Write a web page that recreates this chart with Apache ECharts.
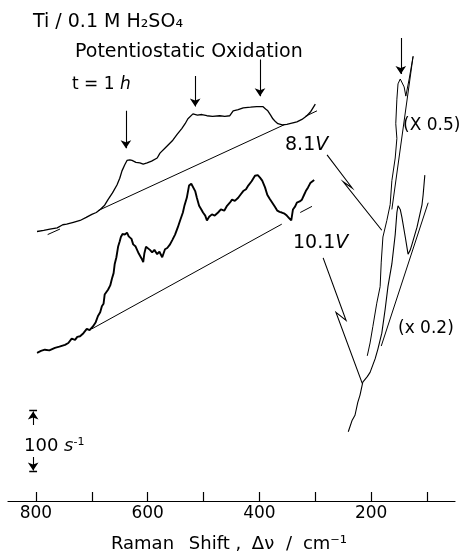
<!DOCTYPE html>
<html><head><meta charset="utf-8">
<script src="https://cdn.jsdelivr.net/npm/echarts@6/dist/echarts.min.js"></script>
<style>html,body{margin:0;padding:0;background:#fff}#c{width:464px;height:558px}</style>
</head><body><div id="c"></div>
<script>
// Raman shift ticks (cm^-1)
const xTicks = [100, 200, 300, 400, 500, 600, 700, 800];
const xTickLabels = [200, 400, 600, 800];

// 8.1 V spectrum, 300-800 cm^-1 region (counts, offset)
const spec81Left = [[798,440],[786,442],[775,444],[762,446],[752,451],[745,452],[733,455],[721,458],[710,463],[700,468],[692,471],[685,476],[677,483],[671,492],[663,503],[655,516],[650,527],[646,539],[641,549],[637,556],[632,557],[628,556],[621,553],[614,552],[608,550],[601,552],[593,555],[583,560],[578,568],[567,578],[555,589],[547,599],[539,608],[533,616],[528,624],[519,632],[511,630],[503,631],[494,629],[484,628],[471,629],[462,628],[453,629],[447,637],[438,639],[429,642],[416,643],[405,644],[394,644],[389,640],[385,637],[380,630],[376,624],[371,619],[367,616],[359,614],[351,615],[342,617],[333,619],[324,623],[315,629],[308,636],[300,648]];
// 10.1 V spectrum, 300-800 cm^-1 region
const spec101Left = [[798,242],[791,245],[784,247],[776,246],[766,250],[758,252],[748,255],[742,258],[736,265],[730,263],[726,268],[721,269],[715,274],[709,281],[704,279],[698,285],[693,292],[689,302],[685,308],[682,318],[679,322],[677,337],[674,334],[671,345],[667,352],[664,363],[661,372],[659,387],[656,398],[653,415],[650,424],[648,431],[645,436],[641,435],[637,438],[634,432],[632,431],[629,428],[626,419],[622,416],[619,410],[616,404],[614,402],[611,396],[608,390],[606,404],[603,415],[600,418],[596,410],[592,406],[588,410],[583,403],[579,407],[574,398],[569,411],[565,413],[560,419],[556,426],[551,435],[546,447],[542,458],[537,471],[534,483],[530,495],[526,515],[522,518],[519,516],[515,506],[512,495],[508,482],[504,476],[501,471],[497,466],[494,458],[490,464],[485,468],[480,466],[474,471],[469,476],[463,474],[458,482],[453,487],[449,492],[444,490],[438,495],[434,500],[429,506],[424,509],[420,515],[414,522],[408,531],[403,532],[399,528],[395,523],[390,512],[386,500],[382,494],[377,487],[372,480],[368,474],[364,472],[360,471],[355,469],[351,466],[347,462],[343,458],[340,476],[336,481],[333,487],[328,489],[324,492],[320,500],[317,506],[313,512],[309,519],[302,524]];
// 8.1 V low-frequency part (x0.5)
const spec81Right = [[207,237],[202,258],[197,285],[190,323],[184,350],[182,390],[179,431],[172,458],[166,484],[163,523],[157,560],[154,592],[156,616],[154,656],[152,681],[148,689],[145,689],[141,676],[138,661],[132,689],[125,726]];
// 10.1 V low-frequency part (x0.2)
const spec101Right = [[241,113],[234,132],[229,140],[224,161],[220,173],[215,194],[207,203],[202,210],[193,232],[188,248],[181,274],[175,313],[170,350],[163,387],[157,435],[154,471],[152,482],[148,476],[145,463],[139,431],[134,403],[130,410],[127,419],[118,447],[109,484],[107,500],[104,532]];

// Background baselines (segments)
const baseline81 = [[[779,435],[757,444]], [[689,474],[354,615]], [[318,628],[297,637]], [[163,476],[125,726]]];
const baseline101 = [[[700,281],[360,452]], [[327,471],[306,481]], [[182,253],[98,487]]];

// Peak marker arrows: [shift, from, to]
const peakArrows = [[639,637,576],[515,694,644],[399,721,661],[147,756,697]];
// Zig-zag pointer arrows from labels to the low-frequency traces
const pointer81 = [[279,565],[234,511],[250,521],[181,442]];
const pointer101 = [[286,397],[245,295],[263,308],[216,192]];
// 100 s^-1 scale bar
const scaleBarX = 805;
const scaleBarRange = [48, 148];

const F = 'DejaVu Sans';
const chart = echarts.init(document.getElementById('c'), null, {renderer: 'canvas'});

const arrowLines = peakArrows.map(a => ({coords: [[a[0], a[1]], [a[0], a[2]]]}));
const sb0 = scaleBarRange[0], sb1 = scaleBarRange[1];
const sbArrows = [
  {coords: [[scaleBarX, sb0 + 76], [scaleBarX, sb1 - 2]]},
  {coords: [[scaleBarX, sb0 + 24], [scaleBarX, sb0 + 2]]}
];
const sbBars = [
  {coords: [[scaleBarX + 7, sb1], [scaleBarX - 7, sb1]]},
  {coords: [[scaleBarX + 7, sb0], [scaleBarX - 7, sb0]]}
];

const lineSeries = (data, w) => ({
  type: 'line', data, showSymbol: false, symbol: 'none', smooth: false,
  lineStyle: {color: '#000', width: w}, silent: true, z: 3
});

chart.setOption({
  animation: false,
  backgroundColor: '#fff',
  grid: {left: 8, right: 9, top: 11, bottom: 51},
  xAxis: {
    type: 'value', min: 50, max: 850, inverse: true,
    axisLine: {lineStyle: {color: '#000', width: 1.2}},
    axisTick: {inside: true, length: 9, lineStyle: {color: '#000', width: 1.2}, customValues: xTicks},
    axisLabel: {customValues: xTickLabels, color: '#000', fontSize: 17, fontFamily: F, margin: 4},
    splitLine: {show: false},
    name: '{a|Raman}{b|Shift ,}{c|Δν}{d|/}{e|cm⁻¹}{g|}',
    nameLocation: 'middle', nameGap: 34,
    nameTextStyle: {
      color: '#000', fontSize: 18, fontFamily: F,
      rich: {
        a: {fontSize: 18, fontFamily: F, color: '#000', width: 83},
        b: {fontSize: 18, fontFamily: F, color: '#000', width: 62},
        c: {fontSize: 18, fontFamily: F, color: '#000', width: 34},
        d: {fontSize: 18, fontFamily: F, color: '#000', width: 18},
        e: {fontSize: 18, fontFamily: F, color: '#000', width: 54},
        g: {fontSize: 18, width: 10}
      }
    }
  },
  yAxis: {type: 'value', min: 0, max: 800, show: false},
  series: [
    lineSeries(spec81Left, 1.3),
    lineSeries(spec101Left, 1.9),
    lineSeries(spec81Right, 1),
    lineSeries(spec101Right, 1.1),
    {type: 'lines', coordinateSystem: 'cartesian2d', silent: true,
     data: baseline81.concat(baseline101).map(s => ({coords: s})),
     lineStyle: {color: '#000', width: 1, opacity: 1}},
    {type: 'lines', coordinateSystem: 'cartesian2d', silent: true,
     data: arrowLines.concat(sbArrows), symbol: ['none', 'arrow'], symbolSize: [5, 8],
     lineStyle: {color: '#000', width: 1.1, opacity: 1}},
    {type: 'lines', coordinateSystem: 'cartesian2d', silent: true, polyline: true,
     data: [{coords: pointer81}, {coords: pointer101}], symbol: ['none', 'arrow'], symbolSize: [5, 9],
     lineStyle: {color: '#000', width: 1.1, opacity: 1}},
    {type: 'lines', coordinateSystem: 'cartesian2d', silent: true,
     data: sbBars, lineStyle: {color: '#000', width: 1.3, opacity: 1}}
  ],
  graphic: [
    {type: 'text', x: 33, y: 22, style: {text: 'Ti / 0.1 M H₂SO₄', font: '19px "DejaVu Sans"', fill: '#000', verticalAlign: 'middle'}},
    {type: 'text', x: 75, y: 52, style: {text: 'Potentiostatic Oxidation', font: '19px "DejaVu Sans"', fill: '#000', verticalAlign: 'middle'}},
    {type: 'text', x: 72, y: 85, style: {text: '{n|t = 1 }{i|h}', verticalAlign: 'middle', rich: {n: {fontSize: 17, fontFamily: F, fill: '#000'}, i: {fontSize: 17, fontFamily: F, fontStyle: 'italic', fill: '#000'}}}},
    {type: 'text', x: 285, y: 145, style: {text: '{n|8.1}{i|V}', verticalAlign: 'middle', rich: {n: {fontSize: 19, fontFamily: F, fill: '#000'}, i: {fontSize: 19, fontFamily: F, fontStyle: 'italic', fill: '#000'}}}},
    {type: 'text', x: 293, y: 243, style: {text: '{n|10.1}{i|V}', verticalAlign: 'middle', rich: {n: {fontSize: 19, fontFamily: F, fill: '#000'}, i: {fontSize: 19, fontFamily: F, fontStyle: 'italic', fill: '#000'}}}},
    {type: 'text', x: 403, y: 126, style: {text: '(X 0.5)', font: '17px "DejaVu Sans"', fill: '#000', verticalAlign: 'middle'}},
    {type: 'text', x: 398, y: 329, style: {text: '(x 0.2)', font: '17px "DejaVu Sans"', fill: '#000', verticalAlign: 'middle'}},
    {type: 'text', x: 24, y: 446, style: {text: '{n|100 }{i|s}{s|-1}', verticalAlign: 'middle', rich: {n: {fontSize: 18, fontFamily: F, fill: '#000'}, i: {fontSize: 18, fontFamily: F, fontStyle: 'italic', fill: '#000'}, s: {fontSize: 11, fontFamily: F, fill: '#000', verticalAlign: 'top', padding: [0, 0, 8, 0]}}}}
  ]
});
</script></body></html>
